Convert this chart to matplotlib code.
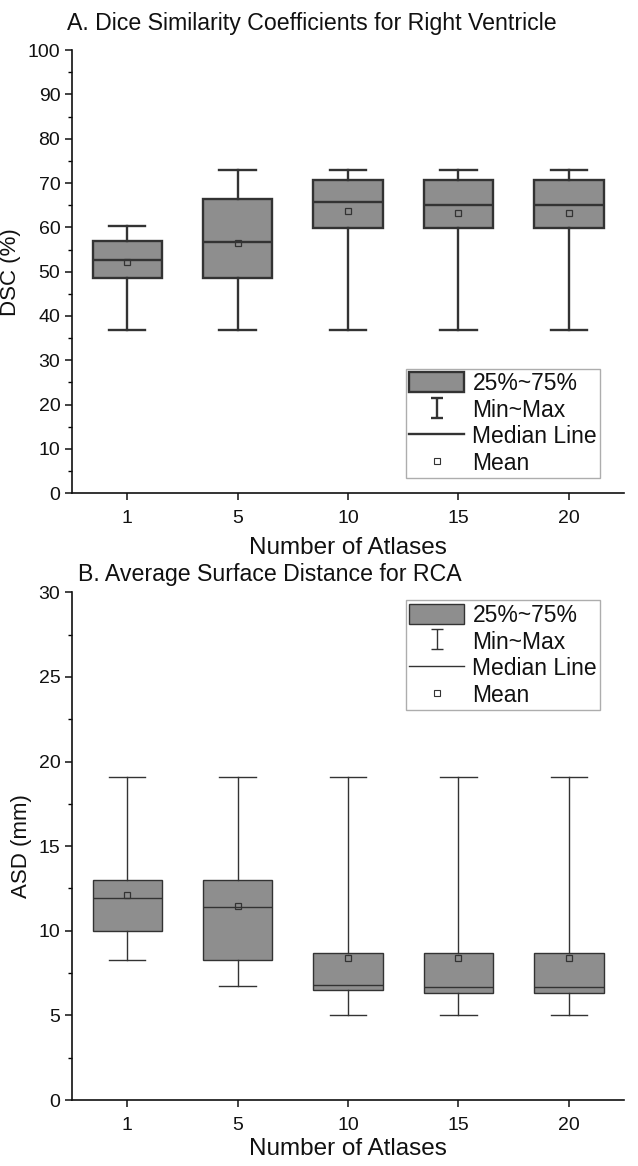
import matplotlib
matplotlib.use("Agg")
import matplotlib.pyplot as plt
from matplotlib.patches import Patch
from matplotlib.lines import Line2D
from matplotlib.path import Path
from matplotlib.ticker import MultipleLocator

plt.rcParams['font.family'] = ['Liberation Sans', 'DejaVu Sans']

# ---------------- data ----------------
atlases = ["1", "5", "10", "15", "20"]

# A. DSC (%) for right ventricle
dsc_min = [36.9, 36.9, 36.9, 36.9, 36.9]
dsc_q1 = [48.6, 48.6, 59.8, 59.8, 59.8]
dsc_med = [52.7, 56.6, 65.7, 65.1, 65.1]
dsc_q3 = [56.9, 66.3, 70.6, 70.6, 70.6]
dsc_max = [60.2, 72.9, 72.9, 72.9, 72.9]
dsc_mean = [52.2, 56.5, 63.6, 63.2, 63.2]

# B. ASD (mm) for RCA
asd_min = [8.3, 6.75, 5.0, 5.0, 5.0]
asd_q1 = [10.0, 8.3, 6.5, 6.35, 6.35]
asd_med = [11.95, 11.4, 6.8, 6.65, 6.65]
asd_q3 = [13.0, 13.0, 8.7, 8.7, 8.7]
asd_max = [19.1, 19.1, 19.1, 19.1, 19.1]
asd_mean = [12.1, 11.45, 8.4, 8.4, 8.4]

legend_labels = ["25%~75%", "Min~Max", "Median Line", "Mean"]

BOX_FACE = "#8e8e8e"
LINE_DARK = "#333333"

fig = plt.figure(figsize=(6.38, 11.66), dpi=100)

ax1 = fig.add_axes([0.113, 0.577, 0.865, 0.380])
ax2 = fig.add_axes([0.113, 0.0566, 0.865, 0.4354])

ibeam = Path([(-0.6, 1), (0.6, 1), (0, 1), (0, -1), (-0.6, -1), (0.6, -1)],
             [Path.MOVETO, Path.LINETO, Path.MOVETO, Path.LINETO, Path.MOVETO, Path.LINETO])


def draw(ax, mins, q1s, meds, q3s, maxs, means, lw, ylim, major, minor, ylabel,
         legend_anchor, legend_loc, xlabelpad):
    stats = []
    for i in range(len(atlases)):
        stats.append(dict(med=meds[i], q1=q1s[i], q3=q3s[i], whislo=mins[i],
                          whishi=maxs[i], mean=means[i], fliers=[], label=atlases[i]))
    pos = list(range(1, len(atlases) + 1))
    ax.bxp(stats, positions=pos, widths=0.63, patch_artist=True, showmeans=True,
           showfliers=False,
           boxprops=dict(facecolor=BOX_FACE, edgecolor=LINE_DARK, linewidth=lw),
           whiskerprops=dict(color=LINE_DARK, linewidth=lw),
           capprops=dict(color=LINE_DARK, linewidth=lw),
           medianprops=dict(color=LINE_DARK, linewidth=lw),
           meanprops=dict(marker='s', markersize=4, markerfacecolor='none',
                          markeredgecolor=LINE_DARK, markeredgewidth=0.9),
           capwidths=0.33)
    ax.set_xlim(0.5, 5.5)
    ax.set_ylim(*ylim)
    ax.yaxis.set_major_locator(MultipleLocator(major))
    ax.yaxis.set_minor_locator(MultipleLocator(minor))
    ax.set_xticks(pos)
    ax.set_xticklabels(atlases)
    for s in ['top', 'right']:
        ax.spines[s].set_visible(False)
    for s in ['left', 'bottom']:
        ax.spines[s].set_linewidth(1.2)
        ax.spines[s].set_color('#111111')
    ax.tick_params(axis='both', which='major', direction='out', length=5, width=1.1,
                   labelsize=14, colors='#111111')
    ax.tick_params(axis='x', which='major', pad=7)
    ax.tick_params(axis='y', which='minor', direction='out', length=3, width=1.0)
    ax.set_xlabel("Number of Atlases", fontsize=17.5, color='#111111', labelpad=xlabelpad)
    ax.set_ylabel(ylabel, fontsize=16, color='#111111', labelpad=5)

    handles = [
        Patch(facecolor=BOX_FACE, edgecolor=LINE_DARK, linewidth=lw),
        Line2D([], [], linestyle='none', marker=ibeam, markersize=14,
               markeredgecolor=LINE_DARK, markeredgewidth=lw, fillstyle='none'),
        Line2D([], [], color=LINE_DARK, linewidth=lw),
        Line2D([], [], linestyle='none', marker='s', markersize=4,
               markerfacecolor='none', markeredgecolor=LINE_DARK, markeredgewidth=0.8),
    ]
    leg = ax.legend(handles, legend_labels, loc=legend_loc, bbox_to_anchor=legend_anchor,
                    fontsize=16.5, frameon=True, fancybox=False, borderaxespad=0,
                    borderpad=0.15, handlelength=2.4, handleheight=1.0,
                    handletextpad=0.35, labelspacing=0.15)
    leg.get_frame().set_edgecolor('#999999')
    leg.get_frame().set_linewidth(1.0)
    for t in leg.get_texts():
        t.set_color('#111111')


draw(ax1, dsc_min, dsc_q1, dsc_med, dsc_q3, dsc_max, dsc_mean, 1.7, (0, 100), 10, 5,
     "DSC (%)", (0.605, 0.034), 'lower left', 7)
draw(ax2, asd_min, asd_q1, asd_med, asd_q3, asd_max, asd_mean, 1.0, (0, 30), 5, 2.5,
     "ASD (mm)", (0.605, 0.984), 'upper left', 3)

fig.text(0.488, 0.99, "A. Dice Similarity Coefficients for Right Ventricle",
         ha='center', va='top', fontsize=16.7, color='#111111')
fig.text(0.122, 0.507, "B. Average Surface Distance for RCA",
         ha='left', va='center', fontsize=16.7, color='#111111')

fig.savefig("out.png", dpi=100)
